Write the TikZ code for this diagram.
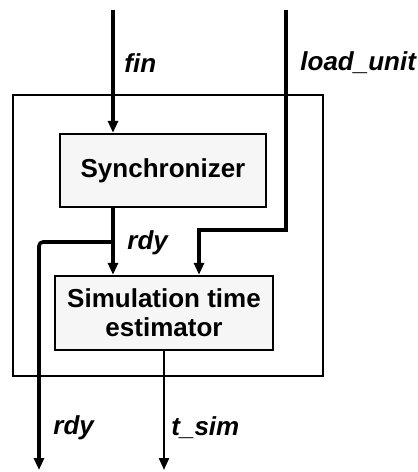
\documentclass[tikz,border=0pt]{standalone}
\usepackage{fontspec}
\setmainfont{Liberation Sans}
\usetikzlibrary{arrows.meta}
\tikzset{
  blk/.style={draw, line width=1.2pt, fill=gray!7, font=\fontsize{13}{14.5}\selectfont\bfseries, align=center, inner sep=0pt},
  sig/.style={line width=1.8pt, -{Triangle[length=6pt,width=5pt]}},
  thinsig/.style={line width=1.1pt, -{Triangle[length=6pt,width=5pt]}},
  lbl/.style={anchor=west, inner sep=0pt, font=\fontsize{13}{14.5}\selectfont\bfseries\itshape}
}
\begin{document}
\begin{tikzpicture}[x=0.5pt,y=-0.5pt]

\useasboundingbox (0,0) rectangle (418,472);
\node[draw, line width=1.2pt, minimum width=155pt, minimum height=140.5pt, inner sep=0pt] (outer) at (168,235.5) {};
\node[blk, minimum width=103pt, minimum height=36.5pt] (sync) at (163,170.5) {Synchronizer};
\node[blk, minimum width=109pt, minimum height=37pt] (est) at (164,313) {Simulation time\\estimator};

\coordinate (fin) at (113,10);
\coordinate (lu) at (286,10);
\coordinate (lubend) at (199,230);
\coordinate (tap) at (113,242);
\coordinate (rdyout) at (39,470);
\coordinate (tsim) at (163,470);

\draw[sig] (fin) -- (fin |- sync.north);
\draw[sig] (fin |- sync.south) -- (fin |- est.north);
\draw[sig] (lu) |- (lubend) -- (lubend |- est.north);
\draw[sig, rounded corners=2pt] (tap) -| (rdyout);
\draw[thinsig] (est.south) -- (est.south |- tsim);

\node[lbl] (finlbl) at (124,63) {fin};
\node[lbl] (lulbl) at (300,63) {load\_unit};
\node[lbl] (rdylbl) at (127,243) {rdy};
\node[lbl] (rdyoutlbl) at (53,428) {rdy};
\node[lbl] (tsimlbl) at (171,428) {t\_sim};

\end{tikzpicture}
\end{document}
